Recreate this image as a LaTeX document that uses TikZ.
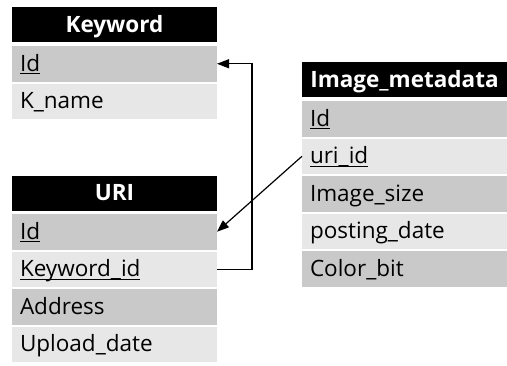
\documentclass[tikz,border=0pt]{standalone}
\usepackage{fontspec}
\setmainfont{Open Sans}
\usetikzlibrary{arrows.meta}
\definecolor{rowdark}{HTML}{C9C9C9}
\definecolor{rowlight}{HTML}{E7E7E7}
\newcommand\keyul[1]{\setbox0\hbox{#1}\rlap{\rule[-3.2pt]{\wd0}{1.1pt}}\box0}
\begin{document}
\begin{tikzpicture}[x=1pt,y=-1pt,
  cell/.style={anchor=north west, minimum width=205pt, minimum height=35.5pt,
    inner xsep=8pt, inner ysep=0pt, outer sep=0pt, text width=189pt, align=left,
    font=\fontsize{22.5}{26}\selectfont, text height=16pt, text depth=1pt},
  dark/.style={cell, fill=rowdark},
  light/.style={cell, fill=rowlight},
  hdr/.style={cell, fill=black, text=white, align=center, minimum height=35pt,
    font=\fontsize{22.5}{26}\selectfont\bfseries},
  link/.style={draw=black, line width=1.2pt, -{Triangle[length=12pt,width=9pt]}}
]
\useasboundingbox (0,0) rectangle (507,365);
% Keyword
\node[hdr] (kh) at (12,7) {Keyword};
\node[dark] (kid) at (12,46) {\keyul{Id}};
\node[light] (kname) at (12,83.5) {K\_name};
% URI
\node[hdr] (uh) at (12,175.5) {URI};
\node[dark] (uid) at (12,214) {\keyul{Id}};
\node[light] (ukw) at (12,251.5) {\keyul{Keyword\_id}};
\node[dark] (uaddr) at (12,289) {Address};
\node[light] (uup) at (12,326.5) {Upload\_date};
% Image_metadata
\node[hdr] (ih) at (302,62) {Image\_metadata};
\node[dark] (iid) at (302,101) {\keyul{Id}};
\node[light] (iuri) at (302,138.5) {\keyul{uri\_id}};
\node[dark] (isize) at (302,176) {Image\_size};
\node[light] (ipost) at (302,213.5) {posting\_date};
\node[dark] (icol) at (302,251) {Color\_bit};
% connectors
\draw[link] (ukw.east) -- ++(35,0) |- (kid.east);
\draw[link] (iuri.west) -- (uid.east);
\end{tikzpicture}
\end{document}
